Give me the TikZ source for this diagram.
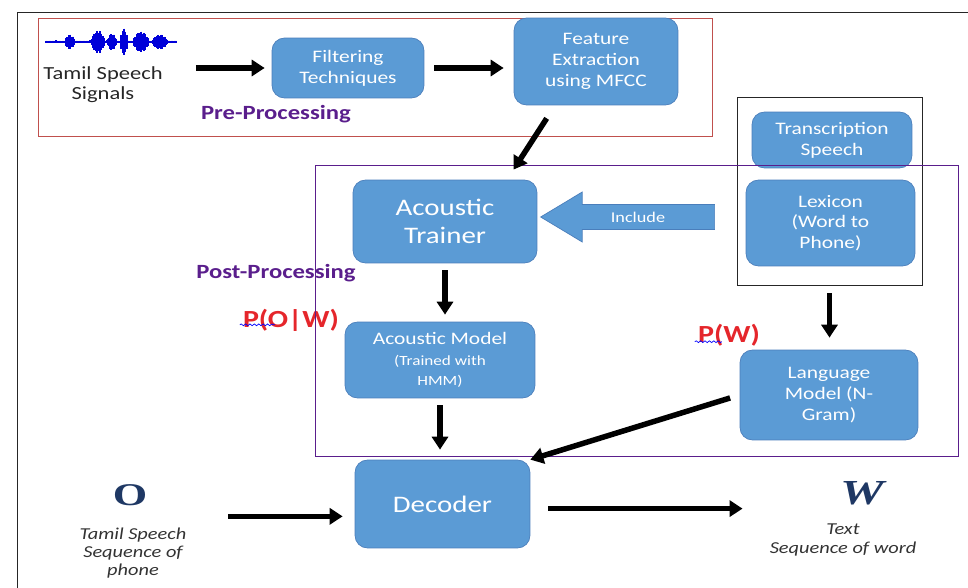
\documentclass[tikz,border=0pt]{standalone}
\usepackage{fontspec}
\setmainfont{Carlito}[FakeStretch=1.22]
\newfontfamily\letterfont{Liberation Serif}[FakeStretch=1.4]
\usetikzlibrary{arrows.meta,shapes.arrows,decorations.pathmorphing}
\definecolor{boxblue}{HTML}{5B9BD5}
\definecolor{boxedge}{HTML}{4A7EBB}
\definecolor{procpurple}{HTML}{5A1E8C}
\definecolor{framered}{HTML}{C0504D}
\definecolor{navy}{HTML}{1F3864}
\definecolor{probred}{HTML}{E5262B}

\begin{document}
\begin{tikzpicture}[x=0.02cm,y=-0.02cm,
  box/.style={draw=boxedge,fill=boxblue,rounded corners=0.25cm,text=white,align=center,font=\fontsize{10}{11.8}\selectfont},
  arr/.style={-{Triangle[length=0.26cm,width=0.32cm]},line width=0.11cm,black},
  txt/.style={align=center,text=black!85,font=\fontsize{10.5}{11.5}\selectfont},
  caption/.style={align=center,text=black!80,font=\fontsize{9.5}{10.5}\selectfont\itshape},
  stage/.style={text=procpurple,font=\fontsize{11.5}{13}\selectfont\bfseries},
  prob/.style={text=probred,font=\fontsize{14}{16}\selectfont\bfseries},
  squiggle/.style={blue,line width=0.4pt,decorate,decoration={snake,amplitude=0.5pt,segment length=2.5pt}}]
   \useasboundingbox (0,0) rectangle (968,588);
   % frames
   \draw[black!85] (17,588) -- (17,12) -- (968,12);
   \draw[framered] (38,18) rectangle (712,136);
   % speech waveform
   \foreach \x in {46,47,...,176}{
      \pgfmathsetmacro\h{(1.5+6*max(0,1-((\x-70)/5)^2)+10*max(0,1-((\x-98)/7)^2)+7*max(0,1-((\x-112)/5)^2)+12*max(0,1-((\x-124)/4)^2)+9*max(0,1-((\x-141)/8)^2)+6*max(0,1-((\x-160)/8)^2))*(0.55+0.45*abs(sin(\x*53)))}
      \draw[blue!85!black,line width=0.6pt] (\x,{42-\h}) -- (\x,{42+\h});
   }
   \node[txt] (signal) at (103,85) {Tamil Speech\\Signals};
   \node[box,minimum width=3.04cm,minimum height=1.2cm] (filter) at (348,68) {Filtering\\Techniques};
   \node[box,minimum width=3.28cm,minimum height=1.74cm] (feature) at (596,61.5) {Feature\\Extraction\\using MFCC};
   \node[stage] (pre) at (276,114) {Pre-Processing};
   % lexicon group
   \node[draw=black!85,minimum width=3.7cm,minimum height=3.76cm] (lexgroup) at (829.5,191) {};
   \node[box,minimum width=3.2cm,minimum height=1.12cm] (trans) at (832,140) {Transcription\\Speech};
   \node[box,minimum width=3.38cm,minimum height=1.72cm] (lexicon) at (830.5,223) {Lexicon\\(Word to\\Phone)};
   % post-processing
   \node[box,minimum width=3.68cm,minimum height=1.66cm,font=\fontsize{13.5}{16}\selectfont] (trainer) at (445,221.5) {Acoustic\\Trainer};
   \node[single arrow,fill=boxblue,draw=boxedge,shape border rotate=180,minimum height=3.48cm,minimum width=1cm,
         single arrow head extend=0.23cm,single arrow tip angle=62,text=white,font=\fontsize{8.5}{9}\selectfont] (include) at (638,217) {Include};
   \node[stage] (post) at (276,273) {Post-Processing};
   \node[prob] (pow) at (291,320) {P(O|W)};
   \node[box,minimum width=3.8cm,minimum height=1.52cm] (amodel) at (440,360)
      {Acoustic Model\\{\fontsize{8}{9.5}\selectfont(Trained with}\\{\fontsize{8}{10}\selectfont HMM)}};
   \node[prob] (pw) at (729,335) {P(W)};
   \node[box,minimum width=3.56cm,minimum height=1.8cm] (lmodel) at (829,395) {Language\\Model (N-\\Gram)};
   \draw[procpurple] (315,165) rectangle (958,456);
   \draw[squiggle] ([xshift=0.06cm,yshift=0.25cm]pow.south west) -- ++(35,0);
   \draw[squiggle] ([xshift=0.06cm,yshift=0.21cm]pw.south west) -- ++(27,0);
   % decoding
   \node[box,minimum width=3.5cm,minimum height=1.76cm,font=\fontsize{13.5}{16}\selectfont] (decoder) at (442.5,504) {Decoder};
   \node[text=navy,font=\fontsize{18}{20}\selectfont\letterfont\bfseries] (obs) at (130,495) {O};
   \node[caption] (obstext) at (133,553) {Tamil Speech\\Sequence of\\phone};
   \node[text=navy,font=\fontsize{20}{20}\selectfont\letterfont\bfseries\itshape] (word) at (862,493) {W};
   \node[caption] (wordtext) at (843,540) {Text\\Sequence of word};
   % arrows
   \draw[arr,shorten <=0.54cm,shorten >=0.14cm] (signal.east |- filter.west) -- (filter.west);
   \draw[arr,shorten <=0.2cm,shorten >=0.2cm] (filter.east) -- (feature.west |- filter.east);
   \draw[arr,shorten <=0.31cm,shorten >=0.24cm] (feature.227) -- (trainer.34);
   \draw[arr,shorten <=0.14cm,shorten >=0.14cm] (trainer.south) -- (trainer.south |- amodel.north);
   \draw[arr,shorten <=0.14cm,shorten >=0.2cm] (amodel.south) -- (amodel.south |- decoder.north);
   \draw[arr,shorten <=0.16cm,shorten >=0.24cm] (lexgroup.south) -- (lexgroup.south |- lmodel.north);
   \draw[arr,shorten <=0.2cm] (lmodel.west) -- (decoder.north east);
   \draw[arr,shorten <=1.5cm,shorten >=0.24cm] (decoder.188 -| obs.east) -- (decoder.188);
   \draw[arr,shorten <=0.36cm,shorten >=0.42cm] (decoder.-3) -- (decoder.-3 -| wordtext.west);
\end{tikzpicture}
\end{document}
